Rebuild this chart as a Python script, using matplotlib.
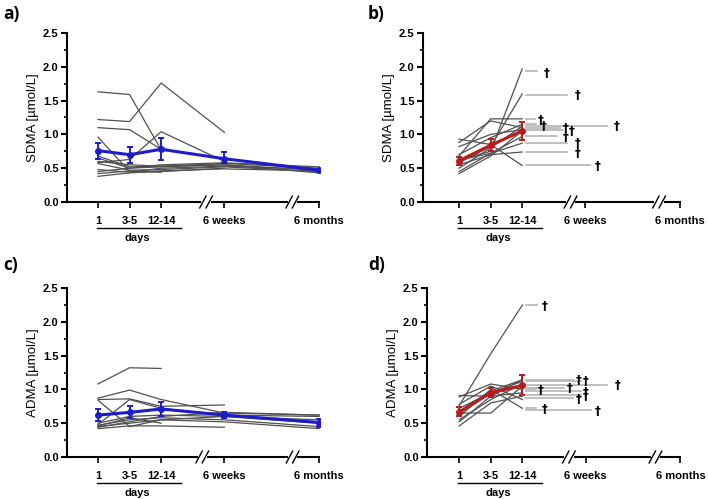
import matplotlib.pyplot as plt
import numpy as np

plt.rcParams['font.family'] = ['Liberation Sans', 'DejaVu Sans']

nan = np.nan

# x positions: 1, 3-5, 12-14 days, 6 weeks, 6 months
x_pos = [1, 2, 3, 5, 8]
x_labels = ['1', '3-5', '12-14', '6 weeks', '6 months']

# ---- a) SDMA, survivors (5 time points)
sdma_surv = [
    [1.63, 1.59, 0.77, nan, nan],
    [1.22, 1.19, 1.76, 1.03, nan],
    [1.10, 1.07, 0.78, nan, nan],
    [0.96, 0.45, 0.44, nan, nan],
    [0.58, 0.63, 1.04, 0.60, nan],
    [0.68, 0.52, 0.53, 0.57, 0.50],
    [0.65, 0.50, 0.55, 0.58, 0.52],
    [0.60, 0.55, 0.53, 0.55, 0.47],
    [0.57, 0.47, 0.48, 0.52, 0.45],
    [0.48, 0.44, 0.50, 0.53, 0.48],
    [0.45, 0.50, 0.52, 0.55, 0.43],
    [0.42, 0.46, 0.45, 0.50, nan],
    [0.38, 0.43, 0.46, 0.49, 0.46],
]
sdma_surv_mean = [0.76, 0.70, 0.78, 0.64, 0.47]
sdma_surv_lo = [0.64, 0.58, 0.62, 0.57, 0.46]
sdma_surv_hi = [0.88, 0.81, 0.94, 0.74, 0.49]

# ---- b) SDMA, non-survivors (3 time points)
sdma_died = [
    [0.62, 0.75, 1.97],
    [0.58, 0.82, 1.60],
    [0.68, 1.23, 1.23],
    [0.93, 0.85, 0.54],
    [0.88, 1.20, 1.10],
    [0.82, 1.00, 1.07],
    [0.70, 0.95, 1.15],
    [0.62, 0.72, 0.97],
    [0.55, 0.70, 0.74],
    [0.50, 0.80, 1.12],
    [0.45, 0.72, 0.87],
    [0.42, 0.68, 1.05],
]
sdma_died_mean = [0.61, 0.84, 1.05]
sdma_died_lo = [0.55, 0.75, 0.92]
sdma_died_hi = [0.66, 0.93, 1.18]
# time of death: last value carried to x_end, dagger at (dag_x, dag_y)
sdma_death_y = [1.94, 1.59, 1.23, 1.15, 1.12, 1.10, 1.07, 0.97, 0.87, 0.74, 0.54]
sdma_death_end = [3.47, 4.42, 3.42, 3.45, 5.68, 4.20, 4.30, 4.10, 4.42, 4.42, 5.16]
sdma_dag_x = [3.77, 4.76, 3.60, 3.68, 6.00, 4.38, 4.58, 4.38, 4.76, 4.76, 5.40]
sdma_dag_y = [1.90, 1.58, 1.21, 1.12, 1.11, 1.09, 1.05, 0.95, 0.86, 0.72, 0.52]

# ---- c) ADMA, survivors
adma_surv = [
    [1.08, 1.32, 1.31, nan, nan],
    [0.87, 0.99, 0.85, 0.65, 0.62],
    [0.85, 0.86, 0.75, 0.77, nan],
    [0.84, 0.45, 0.55, 0.60, 0.55],
    [0.48, 0.85, 0.72, 0.62, 0.60],
    [0.50, 0.60, 0.62, 0.60, 0.50],
    [0.47, 0.55, 0.58, 0.55, 0.45],
    [0.45, 0.50, 0.55, 0.52, 0.42],
    [0.42, 0.46, 0.46, 0.44, nan],
    [0.46, 0.58, 0.50, nan, nan],
    [0.44, 0.52, 0.60, 0.66, 0.62],
]
adma_surv_mean = [0.62, 0.66, 0.71, 0.62, 0.51]
adma_surv_lo = [0.53, 0.57, 0.60, 0.57, 0.45]
adma_surv_hi = [0.71, 0.76, 0.81, 0.66, 0.56]

# ---- d) ADMA, non-survivors
adma_died = [
    [0.76, 1.53, 2.25],
    [0.91, 0.90, 1.15],
    [0.89, 1.08, 1.00],
    [0.78, 1.05, 0.85],
    [0.72, 0.95, 1.12],
    [0.65, 0.65, 1.05],
    [0.60, 1.00, 0.72],
    [0.55, 0.85, 1.08],
    [0.52, 0.90, 0.95],
    [0.46, 0.80, 0.90],
    [0.68, 0.98, 1.14],
]
adma_died_mean = [0.66, 0.95, 1.06]
adma_died_lo = [0.60, 0.89, 0.91]
adma_died_hi = [0.74, 1.02, 1.21]
adma_death_y = [2.25, 1.00, 0.73, 1.14, 1.12, 1.06, 1.02, 0.97, 0.92, 0.87, 0.69]
adma_death_end = [3.45, 3.42, 3.42, 4.60, 4.85, 5.68, 4.30, 4.85, 4.85, 4.60, 5.16]
adma_dag_x = [3.70, 3.58, 3.70, 4.79, 5.00, 6.00, 4.49, 5.00, 5.00, 4.79, 5.37]
adma_dag_y = [2.22, 0.99, 0.71, 1.13, 1.11, 1.06, 1.02, 0.96, 0.90, 0.85, 0.67]

W, H = 708, 499
fig = plt.figure(figsize=(W / 100, H / 100), dpi=100)


def make_axes(left_px, bottom_px, xmin, xmax, breaks):
    # 31.6 px per x unit, y axis 169 px high
    width = (xmax - xmin) * 31.6
    ax = fig.add_axes([left_px / W, (H - bottom_px) / H, width / W, 169 / H])
    ax.set_xlim(xmin, xmax)
    ax.set_ylim(0, 2.5)
    ax.spines['top'].set_visible(False)
    ax.spines['right'].set_visible(False)
    ax.spines['bottom'].set_visible(False)
    ax.spines['left'].set_linewidth(1.5)
    ax.set_yticks(np.arange(0, 2.6, 0.5))
    ax.set_yticks(np.arange(0.25, 2.5, 0.5), minor=True)
    ax.set_yticklabels(['%.1f' % v for v in np.arange(0, 2.6, 0.5)],
                       fontsize=8, fontweight='bold')
    ax.set_xticks(x_pos)
    ax.set_xticklabels(x_labels, fontsize=8, fontweight='bold')
    ax.tick_params(axis='y', which='major', length=4, width=1.5, pad=2)
    ax.tick_params(axis='y', which='minor', length=2.5, width=1.2)
    ax.tick_params(axis='x', length=4, width=1.2, pad=6)
    # broken x axis drawn by hand
    tr = ax.get_xaxis_transform()
    gap = 0.15
    segs = [xmin, breaks[0] - gap, breaks[0] + gap, breaks[1] - gap,
            breaks[1] + gap, xmax]
    for i in range(0, 6, 2):
        ax.plot([segs[i], segs[i + 1]], [0, 0], color='black', lw=1.5,
                transform=tr, clip_on=False, solid_capstyle='butt')
    for b in breaks:
        for dx in (-0.1, 0.1):
            ax.plot([b + dx - 0.1, b + dx + 0.1], [-0.035, 0.035],
                    color='black', lw=1.0, transform=tr, clip_on=False)
    # "days" bracket under the first three labels
    ax.plot([0.97, 3.62], [-0.155, -0.155], color='black', lw=1.0,
            transform=tr, clip_on=False)
    ax.text(2.25, -0.215, 'days', transform=tr, ha='center', va='center',
            fontsize=8, fontweight='bold')
    return ax


def draw(ax, series, xs, mean, lo, hi, color):
    for s in series:
        s = np.array(s, dtype=float)
        ok = ~np.isnan(s)
        ax.plot(np.array(xs)[ok], s[ok], color='#505050', lw=0.9, zorder=2)
    mean = np.array(mean)
    yerr = [mean - np.array(lo), np.array(hi) - mean]
    ax.errorbar(xs, mean, yerr=yerr, color=color, lw=2.2, marker='o', ms=4,
                capsize=2.5, elinewidth=1.4, capthick=1.4, zorder=4)


def deaths(ax, ys, ends, dx, dy):
    for y, e in zip(ys, ends):
        ax.plot([3.12, e], [y, y], color='#b4b4b4', lw=1.2, zorder=1)
    for x, y in zip(dx, dy):
        ax.text(x, y, '\u2020', ha='center', va='center', fontsize=8.5,
                fontweight='bold', family='DejaVu Sans', color='black')


ax_a = make_axes(67, 202, 0.02, 8.03, (4.42, 7.15))
draw(ax_a, sdma_surv, x_pos, sdma_surv_mean, sdma_surv_lo, sdma_surv_hi, '#1c1ccc')
ax_a.set_ylabel('SDMA [\u00b5mol/L]', fontsize=9.5, labelpad=3)

ax_b = make_axes(423, 202, -0.14, 8.03, (4.53, 7.33))
draw(ax_b, sdma_died, x_pos[:3], sdma_died_mean, sdma_died_lo, sdma_died_hi, '#b81c1c')
deaths(ax_b, sdma_death_y, sdma_death_end, sdma_dag_x, sdma_dag_y)
ax_b.set_ylabel('SDMA [\u00b5mol/L]', fontsize=9.5, labelpad=3)

ax_c = make_axes(67, 457, 0.02, 8.03, (4.3, 7.16))
draw(ax_c, adma_surv, x_pos, adma_surv_mean, adma_surv_lo, adma_surv_hi, '#1c1ccc')
ax_c.set_ylabel('ADMA [\u00b5mol/L]', fontsize=9.5, labelpad=3)

ax_d = make_axes(427, 457, -0.02, 8.03, (4.47, 7.21))
draw(ax_d, adma_died, x_pos[:3], adma_died_mean, adma_died_lo, adma_died_hi, '#b81c1c')
deaths(ax_d, adma_death_y, adma_death_end, adma_dag_x, adma_dag_y)
ax_d.set_ylabel('ADMA [\u00b5mol/L]', fontsize=9.5, labelpad=3)

# panel letters
for lab, x, y in [('a)', 3, 14), ('b)', 368, 14), ('c)', 3, 265), ('d)', 368, 265)]:
    fig.text(x / W, 1 - y / H, lab, fontsize=12.5, fontweight='bold',
             family=['Open Sans', 'DejaVu Sans'], va='center', ha='left')

fig.savefig('out.png', dpi=100)
